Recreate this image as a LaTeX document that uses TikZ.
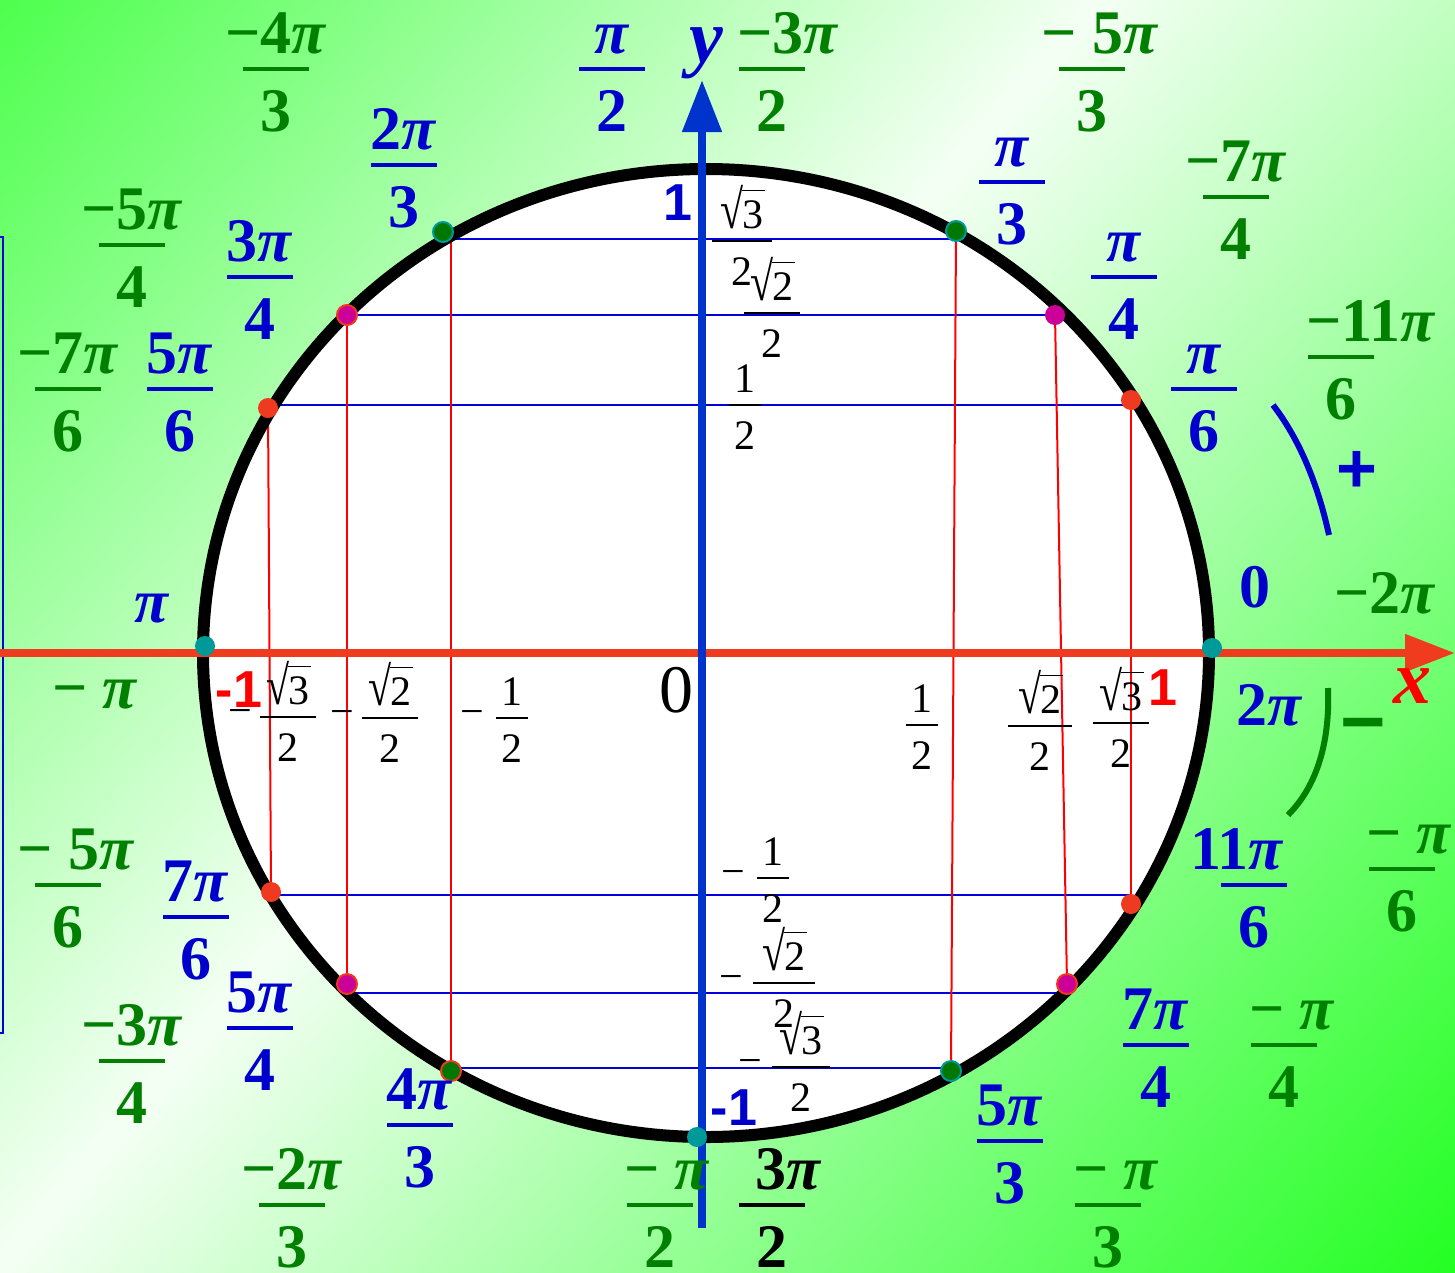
\documentclass[tikz,border=0pt]{standalone}
\usepackage{fontspec}
\setmainfont{Liberation Serif}
\newfontfamily\sansfnt{Liberation Sans}
\usepackage{tikz}
\usetikzlibrary{arrows.meta}
\usepackage{xcolor}
\definecolor{angblue}{HTML}{0000CC}
\definecolor{anggreen}{HTML}{007F00}
\definecolor{axisred}{HTML}{F03C1E}
\definecolor{axisblue}{HTML}{0033CC}
\definecolor{thinblue}{HTML}{0000DD}
\definecolor{thinred}{HTML}{FF0000}
\definecolor{dotteal}{HTML}{009999}
\definecolor{dotred}{HTML}{EE3A1E}
\definecolor{dotmag}{HTML}{CC0099}
\definecolor{dotgreen}{HTML}{007700}
\definecolor{bgA}{HTML}{4CFF4C}
\definecolor{bgW}{HTML}{F4FFF4}
\definecolor{bgB}{HTML}{22FF22}
\pgfdeclarehorizontalshading{bgshade}{100bp}{color(0bp)=(bgA); color(25bp)=(bgA); color(46.5bp)=(bgW); color(75bp)=(bgB); color(100bp)=(bgB)}

\newcommand{\angfont}{\fontsize{62}{62}\selectfont\bfseries}
\newcommand{\valfont}{\fontsize{42}{42}\selectfont}
\newcommand{\numfont}{\fontsize{52}{52}\selectfont\sansfnt\bfseries}
\newcommand{\PI}{\textit{π}}
\newcommand{\rt}[1]{\scalebox{1}[1.3]{√}\kern-0.03em\smash{\rlap{\rule[0.87em]{0.54em}{0.045em}}}#1}

% angle label: [num shift]{name}{style}{bar x}{bar y}{numerator}{denominator}
\newcommand{\angfrac}[7][0]{%
  \node[#3, anchor=base, xshift=#1pt, yshift=16pt] (#2n) at (#4,#5) {#6};
  \draw[#3bar] ([xshift=-33pt]#4,#5) -- ([xshift=33pt]#4,#5);
  \node[#3, anchor=base, yshift=-62pt] (#2d) at (#4,#5) {#7};}
% value label: {name}{bar x}{bar y}{half width}{numerator}{denominator}
\newcommand{\valfrac}[6]{%
  \node[val, anchor=base, yshift=13pt] (#1n) at (#2,#3) {#5};
  \draw[valbar] ([xshift=-#4pt]#2,#3) -- ([xshift=#4pt]#2,#3);
  \node[val, anchor=base, yshift=-44pt] (#1d) at (#2,#3) {#6};}

\begin{document}
\begin{tikzpicture}[x=1pt, y=-1pt, every node/.style={inner sep=0pt},
  posang/.style={text=angblue, font=\angfont},
  posangbar/.style={draw=angblue, line width=4pt},
  negang/.style={text=anggreen, font=\angfont},
  negangbar/.style={draw=anggreen, line width=4pt},
  blkang/.style={text=black, font=\angfont},
  blkangbar/.style={draw=black, line width=4pt},
  val/.style={text=black, font=\valfont},
  valbar/.style={draw=black, line width=2pt},
  hline/.style={thinblue, line width=2.2pt},
  vline/.style={thinred, line width=2pt},
  dot/.style={circle, minimum size=20pt, fill=#1},
  ring/.style={draw=#1, line width=2pt},
  axislabel/.style={font=\fontsize{76}{76}\selectfont\bfseries\itshape}]
  \useasboundingbox (0,0) rectangle (1455,1272);

  % Background
  \begin{scope}
    \clip (0,0) rectangle (1455,1272);
    \begin{scope}[transform canvas={rotate around={-41:(727.5,636)}}]
      \shade[shading=bgshade] (-245,-430) rectangle (1700,1702);
    \end{scope}
  \end{scope}
  \draw[thinblue, line width=2pt] (0,237) -- (3,237) -- (3,1033) -- (0,1033);

  % Unit circle
  \coordinate (O) at (706,653);
  \fill[white] (O) ellipse [x radius=503, y radius=484];

  % Points on the circle
  \coordinate (a0) at (1212,648);
  \coordinate (a30) at (1131,400);
  \coordinate (a45) at (1055,315);
  \coordinate (a60) at (956,231);
  \coordinate (a120) at (443,232);
  \coordinate (a135) at (347,315);
  \coordinate (a150) at (268,408);
  \coordinate (a180) at (205,646);
  \coordinate (a210) at (271,892);
  \coordinate (a225) at (347,984);
  \coordinate (a240) at (451,1071);
  \coordinate (a270) at (697,1137);
  \coordinate (a300) at (951,1071);
  \coordinate (a315) at (1067,984);
  \coordinate (a330) at (1131,904);

  % Projection lines
  \draw[hline] (a120 |- 0,239) -- (a60 |- 0,239);
  \draw[hline] (a135) -- (a45);
  \draw[hline] (a150 |- 0,405) -- (a30 |- 0,405);
  \draw[hline] (a210 |- 0,895) -- (a330 |- 0,895);
  \draw[hline] (a225 |- 0,993) -- (a315 |- 0,993);
  \draw[hline] (a240 |- 0,1068) -- (a300 |- 0,1068);
  \draw[vline] (a150) -- (a210);
  \draw[vline] (a135) -- (a225);
  \draw[vline] (a240 |- a120) -- (a240);
  \draw[vline] (a60) -- (a300);
  \draw[vline] (a45) -- (a315);
  \draw[vline] (a30) -- (a330);

  \draw[line width=12pt] (O) ellipse [x radius=503, y radius=484];

  % Axes
  \coordinate (xs) at (0,653);
  \coordinate (xe) at (1455,653);
  \coordinate (ys) at (702,1228);
  \coordinate (ye) at (702,80);
  \draw[axisred, line width=8pt, -{Triangle[length=50pt, width=36pt]}] (xs) -- (xe);
  \draw[axisblue, line width=8pt, -{Triangle[length=52pt, width=38pt]}] (ys) -- (ye);

  \node[dot=dotteal] (d0) at (a0) {};
  \node[dot=dotteal] (d180) at (a180) {};
  \node[dot=dotteal] (d270) at (a270) {};
  \node[dot=dotred] (d30) at (a30) {};
  \node[dot=dotred] (d150) at (a150) {};
  \node[dot=dotred] (d210) at (a210) {};
  \node[dot=dotred] (d330) at (a330) {};
  \node[dot=dotmag] (d45) at (a45) {};
  \node[dot=dotmag, ring=dotred] (d135) at (a135) {};
  \node[dot=dotmag, ring=dotred] (d225) at (a225) {};
  \node[dot=dotmag, ring=dotred] (d315) at (a315) {};
  \node[dot=dotgreen, ring=dotteal] (d60) at (a60) {};
  \node[dot=dotgreen, ring=dotteal] (d120) at (a120) {};
  \node[dot=dotgreen, ring=dotred] (d240) at (a240) {};
  \node[dot=dotgreen, ring=dotteal] (d300) at (a300) {};

  % Axis names and units
  \node[axislabel, text=red, anchor=base] (xname) at (1412,703) {x};
  \node[axislabel, text=angblue, anchor=base] (yname) at (706,62) {y};
  \node[font=\fontsize{68}{68}\selectfont, anchor=base] (zero) at (676,712) {0};
  \node[font=\numfont, text=angblue, anchor=base] (yone) at (678,220) {1};
  \node[font=\numfont, text=angblue, anchor=base] (ymone) at (734,1125) {-1};
  \node[font=\numfont, text=red, anchor=base] (xmone) at (239,707) {-1};
  \node[font=\numfont, text=red, anchor=base] (xone) at (1163,705) {1};

  % Sine values
  \valfrac{ys3}{742}{241}{30}{\rt{3}}{2}
  \valfrac{ys2}{772}{313}{28}{\rt{2}}{2}
  \valfrac{yh}{745}{405}{16}{1}{2}
  \valfrac{yhm}{773}{878}{16}{1}{2}
  \valfrac{ys2m}{784}{983}{31}{\rt{2}}{2}
  \valfrac{ys3m}{801}{1067}{29}{\rt{3}}{2}
  \node[val] (yhmsign) at (733,878) {−};
  \node[val] (ys2msign) at (731,983) {−};
  \node[val] (ys3msign) at (750,1067) {−};

  % Cosine values
  \valfrac{xs3m}{288}{717}{28}{\rt{3}}{2}
  \valfrac{xs2m}{390}{718}{28}{\rt{2}}{2}
  \valfrac{xhm}{512}{718}{16}{1}{2}
  \valfrac{xh}{922}{725}{16}{1}{2}
  \valfrac{xs2}{1040}{726}{32}{\rt{2}}{2}
  \valfrac{xs3}{1121}{723}{28}{\rt{3}}{2}
  \node[val] (xs3msign) at (240,717) {−};
  \node[val] (xs2msign) at (342,718) {−};
  \node[val] (xhmsign) at (472,718) {−};

  % Positive angles
  \angfrac{pii2}{posang}{612}{69}{\PI}{2}
  \angfrac{tpi3}{posang}{404}{165}{2\PI}{3}
  \angfrac{tpi4}{posang}{260}{277}{3\PI}{4}
  \angfrac{fpi6}{posang}{180}{389}{5\PI}{6}
  \angfrac{spi6}{posang}{196}{917}{7\PI}{6}
  \angfrac{fpi4}{posang}{260}{1028}{5\PI}{4}
  \angfrac{qpi3}{posang}{420}{1125}{4\PI}{3}
  \angfrac[17]{hpi2}{blkang}{772}{1205}{3\PI}{2}
  \angfrac{fpi3}{posang}{1010}{1141}{5\PI}{3}
  \angfrac{spi4}{posang}{1156}{1045}{7\PI}{4}
  \angfrac[-17]{epi6}{posang}{1254}{885}{11\PI}{6}
  \angfrac{pi6}{posang}{1204}{389}{\PI}{6}
  \angfrac{pi4}{posang}{1124}{277}{\PI}{4}
  \angfrac{pi3}{posang}{1012}{182}{\PI}{3}
  \node[posang, anchor=base] (pi) at (152,622) {\PI};
  \node[posang, anchor=base] (nil) at (1255,607) {0};
  \node[posang, anchor=base] (twopi) at (1270,725) {2\PI};

  % Negative angles
  \angfrac{mqpi3}{negang}{276}{69}{−4\PI}{3}
  \angfrac[16]{mhpi2}{negang}{772}{69}{−3\PI}{2}
  \angfrac[8]{mfpi3}{negang}{1092}{69}{− 5\PI}{3}
  \angfrac{mspi4}{negang}{1236}{197}{−7\PI}{4}
  \angfrac[30]{mepi6}{negang}{1341}{357}{−11\PI}{6}
  \angfrac[7]{mpi6}{negang}{1402}{869}{− \PI}{6}
  \angfrac[8]{mpi4}{negang}{1284}{1045}{− \PI}{4}
  \angfrac[8]{mpi3}{negang}{1108}{1205}{− \PI}{3}
  \angfrac[7]{mpi2}{negang}{660}{1205}{− \PI}{2}
  \angfrac{mtpi3}{negang}{292}{1205}{−2\PI}{3}
  \angfrac{mtpi4}{negang}{132}{1061}{−3\PI}{4}
  \angfrac[8]{mfpi6}{negang}{68}{885}{− 5\PI}{6}
  \angfrac{mspi6}{negang}{68}{389}{−7\PI}{6}
  \angfrac{mfpi4}{negang}{132}{245}{−5\PI}{4}
  \node[negang, anchor=base] (mtwopi) at (1385,613) {−2\PI};
  \node[negang, anchor=base] (mpi) at (95,708) {− \PI};

  % Direction marks
  \draw[angblue, line width=6pt] (1273,405) .. controls (1300,440) and (1318,485) .. (1329,535);
  \node[text=angblue, font=\fontsize{70}{70}\selectfont\sansfnt\bfseries] (plus) at (1357,472) {+};
  \draw[anggreen, line width=6pt] (1328,688) .. controls (1330,740) and (1318,785) .. (1288,815);
  \node[text=anggreen, font=\fontsize{78}{78}\selectfont\sansfnt\bfseries] (minus) at (1363,733) {−};
\end{tikzpicture}
\end{document}
